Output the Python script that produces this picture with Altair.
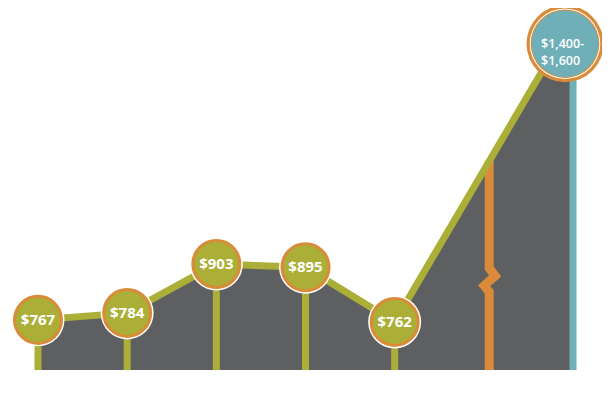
import altair as alt
import pandas as pd

# ---- data ----
periods = [0, 1, 2, 3, 4, 6]
prices = [767, 784, 903, 895, 762, 1500]
labels = ["$767", "$784", "$903", "$895", "$762", "$1,400-\n$1,600"]
kinds = ["past", "past", "past", "past", "past", "future"]

baseline_value = 645
break_x = 5.06
break_top = 1154
# break glyph on the orange line (x offset in periods, y in $)
break_dx = [0, 0, 0.067, -0.056, 0, 0]
break_y = [break_top, 893, 874, 850, 835, baseline_value]

OLIVE = "#ABAE37"
GREY = "#5E5F61"
TEAL = "#6FB0B8"
ORANGE = "#D98B3A"

df = pd.DataFrame({"x": periods, "y": prices, "label": labels, "kind": kinds,
                   "base": [baseline_value] * len(periods)})
past = df[df.kind == "past"]
future = df[df.kind == "future"]
brk = pd.DataFrame({"x": [break_x + d for d in break_dx], "y": break_y,
                    "o": list(range(len(break_y)))})

xs = alt.Scale(domain=[-0.3364, 6.3252], nice=False, zero=False)
ys = alt.Scale(domain=[baseline_value, 1526], nice=False, zero=False)
X = alt.X("x:Q", scale=xs, axis=None)
Y = alt.Y("y:Q", scale=ys, axis=None)

area = alt.Chart(df).mark_area(color=GREY, opacity=1).encode(
    x=X, y=Y, y2="base:Q")

orange = alt.Chart(brk).mark_line(color=ORANGE, strokeWidth=9, strokeJoin="miter",
                                  strokeCap="butt").encode(x=X, y=Y, order="o:Q")

teal = alt.Chart(future).mark_rule(color=TEAL, strokeWidth=7).encode(
    x=X, y=Y, y2="base:Q")

stems = alt.Chart(past).mark_rule(color=OLIVE, strokeWidth=7).encode(
    x=X, y=Y, y2="base:Q")

line = alt.Chart(df).mark_line(color=OLIVE, strokeWidth=7, strokeCap="butt").encode(
    x=X, y=Y)

c_white = alt.Chart(past).mark_circle(color="white", opacity=1, size=2809).encode(x=X, y=Y)
c_main = alt.Chart(past).mark_circle(fill=OLIVE, stroke=ORANGE, strokeWidth=3,
                                     opacity=1, fillOpacity=1, size=2209).encode(x=X, y=Y)
t_small = alt.Chart(past).mark_text(color="white", fontSize=15, fontWeight="bold",
                                    font="Open Sans", baseline="middle",
                                    align="center").encode(x=X, y=Y, text="label:N")

off = dict(xOffset=-8, yOffset=25)
b1 = alt.Chart(future).mark_circle(color=ORANGE, opacity=1, size=5929, **off).encode(x=X, y=Y)
b2 = alt.Chart(future).mark_circle(color="white", opacity=1, size=4984, **off).encode(x=X, y=Y)
b3 = alt.Chart(future).mark_circle(color=ORANGE, opacity=1, size=4706, **off).encode(x=X, y=Y)
b4 = alt.Chart(future).mark_circle(color=TEAL, opacity=1, size=4436, **off).encode(x=X, y=Y)
t_big = alt.Chart(future).mark_text(color="white", fontSize=12.5, fontWeight=600,
                                    font="Open Sans", baseline="middle", align="left",
                                    lineBreak="\n", lineHeight=17, dx=-24, dy=0,
                                    **off).encode(x=X, y=Y, text="label:N")

chart = alt.layer(area, orange, teal, stems, line, c_white, c_main, t_small,
                  b1, b2, b3, b4, t_big).properties(
    width=594, height=362,
    autosize=alt.AutoSizeParams(type="none"),
    padding={"left": 0, "top": 0, "right": 0, "bottom": 0},
).configure_view(stroke=None)

chart.save("out.html", embed_options={"renderer": "svg", "actions": False})
